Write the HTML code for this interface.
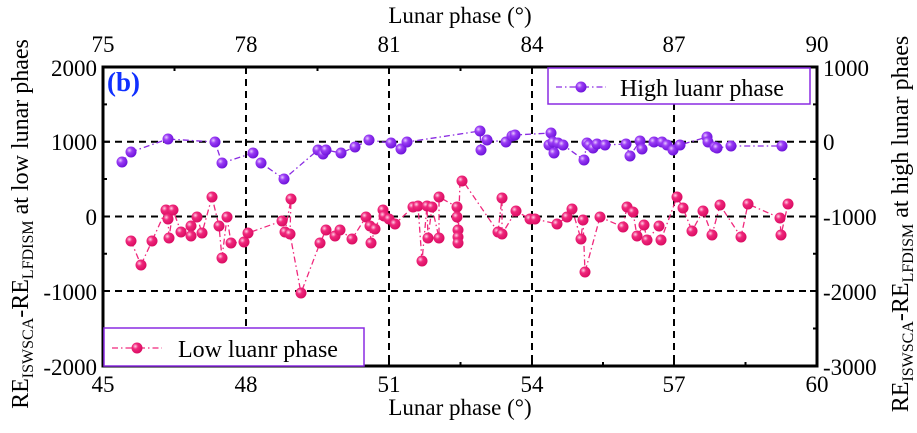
<!DOCTYPE html><html><head><style>body{margin:0;background:#fff}svg{display:block}text{font-family:"Liberation Serif",serif;fill:#000}</style></head><body>
<svg width="917" height="433" viewBox="0 0 917 433" xmlns="http://www.w3.org/2000/svg">
<defs>
<radialGradient id="gp" cx="0.35" cy="0.35" r="0.7"><stop offset="0" stop-color="#e8c8ff"/><stop offset="0.35" stop-color="#9a3cf5"/><stop offset="1" stop-color="#6a10d8"/></radialGradient>
<radialGradient id="gr" cx="0.35" cy="0.35" r="0.7"><stop offset="0" stop-color="#ffd0e6"/><stop offset="0.35" stop-color="#f0287c"/><stop offset="1" stop-color="#d80a60"/></radialGradient>
</defs>
<g stroke="#000" stroke-width="2" stroke-dasharray="7,5">
<line x1="246" y1="67" x2="246" y2="366"/><line x1="389" y1="67" x2="389" y2="366"/><line x1="532" y1="67" x2="532" y2="366"/><line x1="674" y1="67" x2="674" y2="366"/>
<line x1="103" y1="141.75" x2="817" y2="141.75"/><line x1="103" y1="216.5" x2="817" y2="216.5"/><line x1="103" y1="291" x2="817" y2="291"/>
</g>
<rect x="103" y="67" width="714" height="299" fill="none" stroke="#000" stroke-width="3"/>
<g stroke="#000" stroke-width="2">
<path d="M246 366v-7M389 366v-7M532 366v-7M674 366v-7M246 67v7M389 67v7M532 67v7M674 67v7M103 141.75h7M103 216.5h7M103 291h7M817 141.75h-7M817 216.5h-7M817 291h-7"/>
<path d="M174.5 366v-4M317.5 366v-4M460.5 366v-4M603 366v-4M745.5 366v-4M174.5 67v4M317.5 67v4M460.5 67v4M603 67v4M745.5 67v4M103 104.4h4M103 179h4M103 253.8h4M103 328.5h4M817 104.4h-4M817 179h-4M817 253.8h-4M817 328.5h-4"/>
</g>
<polyline fill="none" stroke="#8a2be2" stroke-width="1.3" stroke-dasharray="6,3,1.5,3" points="122,162 131,152 168,139 215,142 222,163 253,153 261,163 284,179 318,150 323,154 326,150 341,153 355,147 369,140 391,143 401,149 407,142 480,131 481,150 487,140 506,142 512,136 515,135 551,133 549,145 553,142 554,153 558,143 563,145 584,160 587,143 589,145 593,148 597,144 605,145 626,144 630,156 640,141 642,149 654,142 662,142 667,145 673,150 680,145 707,137 708,142 715,147 717,148 731,146 782,146"/>
<polyline fill="none" stroke="#f0287c" stroke-width="1.3" stroke-dasharray="6,3,1.5,3" points="131,241 141,265 152,241 166,210 168,219 169,238 173,210 181,232 191,226 191,236 197,217 202,233 212,197 219,226 222,258 227,217 231,243 244,242 248,233 282,221 285,232 291,199 290,234 301,293 320,243 326,230 335,236 340,230 352,239 366,217 370,226 371,243 375,229 383,210 384,216 389,219 395,224 413,207 418,206 422,261 427,206 428,238 432,207 439,238 439,197 457,207 457,217 458,230 458,237 458,243 460,181 463,181 498,232 502,198 502,234 516,211 530,219 535,219 557,224 567,217 572,209 581,239 583,220 585,272 600,217 623,227 627,207 633,212 637,236 644,225 647,240 659,226 661,240 677,197 683,208 692,231 703,211 712,235 720,205 741,237 748,204 780,218 781,235 788,204"/>
<g fill="url(#gp)">
<circle cx="122" cy="162" r="5.5"/><circle cx="131" cy="152" r="5.5"/><circle cx="168" cy="139" r="5.5"/><circle cx="215" cy="142" r="5.5"/><circle cx="222" cy="163" r="5.5"/><circle cx="253" cy="153" r="5.5"/><circle cx="261" cy="163" r="5.5"/><circle cx="284" cy="179" r="5.5"/><circle cx="318" cy="150" r="5.5"/><circle cx="323" cy="154" r="5.5"/><circle cx="326" cy="150" r="5.5"/><circle cx="341" cy="153" r="5.5"/><circle cx="355" cy="147" r="5.5"/><circle cx="369" cy="140" r="5.5"/><circle cx="391" cy="143" r="5.5"/><circle cx="401" cy="149" r="5.5"/><circle cx="407" cy="142" r="5.5"/><circle cx="480" cy="131" r="5.5"/><circle cx="481" cy="150" r="5.5"/><circle cx="487" cy="140" r="5.5"/><circle cx="506" cy="142" r="5.5"/><circle cx="512" cy="136" r="5.5"/><circle cx="515" cy="135" r="5.5"/><circle cx="551" cy="133" r="5.5"/><circle cx="549" cy="145" r="5.5"/><circle cx="553" cy="142" r="5.5"/><circle cx="554" cy="153" r="5.5"/><circle cx="558" cy="143" r="5.5"/><circle cx="563" cy="145" r="5.5"/><circle cx="584" cy="160" r="5.5"/><circle cx="587" cy="143" r="5.5"/><circle cx="589" cy="145" r="5.5"/><circle cx="593" cy="148" r="5.5"/><circle cx="597" cy="144" r="5.5"/><circle cx="605" cy="145" r="5.5"/><circle cx="626" cy="144" r="5.5"/><circle cx="630" cy="156" r="5.5"/><circle cx="640" cy="141" r="5.5"/><circle cx="642" cy="149" r="5.5"/><circle cx="654" cy="142" r="5.5"/><circle cx="662" cy="142" r="5.5"/><circle cx="667" cy="145" r="5.5"/><circle cx="673" cy="150" r="5.5"/><circle cx="680" cy="145" r="5.5"/><circle cx="707" cy="137" r="5.5"/><circle cx="708" cy="142" r="5.5"/><circle cx="715" cy="147" r="5.5"/><circle cx="717" cy="148" r="5.5"/><circle cx="731" cy="146" r="5.5"/><circle cx="782" cy="146" r="5.5"/>
</g>
<g fill="url(#gr)">
<circle cx="131" cy="241" r="5.5"/><circle cx="141" cy="265" r="5.5"/><circle cx="152" cy="241" r="5.5"/><circle cx="166" cy="210" r="5.5"/><circle cx="168" cy="219" r="5.5"/><circle cx="169" cy="238" r="5.5"/><circle cx="173" cy="210" r="5.5"/><circle cx="181" cy="232" r="5.5"/><circle cx="191" cy="226" r="5.5"/><circle cx="191" cy="236" r="5.5"/><circle cx="197" cy="217" r="5.5"/><circle cx="202" cy="233" r="5.5"/><circle cx="212" cy="197" r="5.5"/><circle cx="219" cy="226" r="5.5"/><circle cx="222" cy="258" r="5.5"/><circle cx="227" cy="217" r="5.5"/><circle cx="231" cy="243" r="5.5"/><circle cx="244" cy="242" r="5.5"/><circle cx="248" cy="233" r="5.5"/><circle cx="282" cy="221" r="5.5"/><circle cx="285" cy="232" r="5.5"/><circle cx="291" cy="199" r="5.5"/><circle cx="290" cy="234" r="5.5"/><circle cx="301" cy="293" r="5.5"/><circle cx="320" cy="243" r="5.5"/><circle cx="326" cy="230" r="5.5"/><circle cx="335" cy="236" r="5.5"/><circle cx="340" cy="230" r="5.5"/><circle cx="352" cy="239" r="5.5"/><circle cx="366" cy="217" r="5.5"/><circle cx="370" cy="226" r="5.5"/><circle cx="371" cy="243" r="5.5"/><circle cx="375" cy="229" r="5.5"/><circle cx="383" cy="210" r="5.5"/><circle cx="384" cy="216" r="5.5"/><circle cx="389" cy="219" r="5.5"/><circle cx="395" cy="224" r="5.5"/><circle cx="413" cy="207" r="5.5"/><circle cx="418" cy="206" r="5.5"/><circle cx="422" cy="261" r="5.5"/><circle cx="427" cy="206" r="5.5"/><circle cx="428" cy="238" r="5.5"/><circle cx="432" cy="207" r="5.5"/><circle cx="439" cy="238" r="5.5"/><circle cx="439" cy="197" r="5.5"/><circle cx="457" cy="207" r="5.5"/><circle cx="457" cy="217" r="5.5"/><circle cx="458" cy="230" r="5.5"/><circle cx="458" cy="237" r="5.5"/><circle cx="458" cy="243" r="5.5"/><circle cx="462" cy="181" r="5.5"/><circle cx="498" cy="232" r="5.5"/><circle cx="502" cy="198" r="5.5"/><circle cx="502" cy="234" r="5.5"/><circle cx="516" cy="211" r="5.5"/><circle cx="530" cy="219" r="5.5"/><circle cx="535" cy="219" r="5.5"/><circle cx="557" cy="224" r="5.5"/><circle cx="567" cy="217" r="5.5"/><circle cx="572" cy="209" r="5.5"/><circle cx="581" cy="239" r="5.5"/><circle cx="583" cy="220" r="5.5"/><circle cx="585" cy="272" r="5.5"/><circle cx="600" cy="217" r="5.5"/><circle cx="623" cy="227" r="5.5"/><circle cx="627" cy="207" r="5.5"/><circle cx="633" cy="212" r="5.5"/><circle cx="637" cy="236" r="5.5"/><circle cx="644" cy="225" r="5.5"/><circle cx="647" cy="240" r="5.5"/><circle cx="659" cy="226" r="5.5"/><circle cx="661" cy="240" r="5.5"/><circle cx="677" cy="197" r="5.5"/><circle cx="683" cy="208" r="5.5"/><circle cx="692" cy="231" r="5.5"/><circle cx="703" cy="211" r="5.5"/><circle cx="712" cy="235" r="5.5"/><circle cx="720" cy="205" r="5.5"/><circle cx="741" cy="237" r="5.5"/><circle cx="748" cy="204" r="5.5"/><circle cx="780" cy="218" r="5.5"/><circle cx="781" cy="235" r="5.5"/><circle cx="788" cy="204" r="5.5"/>
</g>
<rect x="548" y="68" width="262" height="36" fill="#fff" stroke="#8a2be2" stroke-width="1.5"/>
<line x1="556" y1="87" x2="606" y2="87" stroke="#8a2be2" stroke-width="1.3" stroke-dasharray="6,3,1.5,3"/><circle cx="581" cy="87" r="5.5" fill="url(#gp)"/>
<text x="620" y="96" font-size="24">High luanr phase</text>
<rect x="104" y="328" width="260" height="38" fill="#fff" stroke="#8a2be2" stroke-width="1.5"/>
<line x1="112" y1="348" x2="162" y2="348" stroke="#f0287c" stroke-width="1.3" stroke-dasharray="6,3,1.5,3"/><circle cx="137" cy="348" r="5.5" fill="url(#gr)"/>
<text x="178" y="357" font-size="24">Low luanr phase</text>
<text x="107" y="91" font-size="27" font-weight="bold" style="fill:#1030ff">(b)</text>
<g font-size="23" text-anchor="middle">
<text x="103" y="392">45</text><text x="246" y="392">48</text><text x="389" y="392">51</text><text x="532" y="392">54</text><text x="674" y="392">57</text><text x="817" y="392">60</text>
<text x="103" y="52">75</text><text x="246" y="52">78</text><text x="389" y="52">81</text><text x="532" y="52">84</text><text x="674" y="52">87</text><text x="817" y="52">90</text>
<text x="460" y="415">Lunar phase (°)</text><text x="460" y="23">Lunar phase (°)</text>
</g>
<g font-size="23" text-anchor="end">
<text x="97" y="76">2000</text><text x="97" y="150">1000</text><text x="97" y="225">0</text><text x="97" y="300">-1000</text><text x="97" y="375">-2000</text>
</g>
<g font-size="23">
<text x="823" y="76">1000</text><text x="823" y="150">0</text><text x="823" y="225">-1000</text><text x="823" y="300">-2000</text><text x="823" y="375">-3000</text>
</g>
<text transform="translate(28,224) rotate(-90)" font-size="24" text-anchor="middle">RE<tspan font-size="16" dy="5">ISWSCA</tspan><tspan dy="-5">-RE</tspan><tspan font-size="16" dy="5">LFDISM</tspan><tspan dy="-5"> at low lunar phaes</tspan></text>
<text transform="translate(908,224) rotate(-90)" font-size="24" text-anchor="middle">RE<tspan font-size="16" dy="5">ISWSCA</tspan><tspan dy="-5">-RE</tspan><tspan font-size="16" dy="5">LFDISM</tspan><tspan dy="-5"> at high lunar phaes</tspan></text>
</svg>
</body></html>
